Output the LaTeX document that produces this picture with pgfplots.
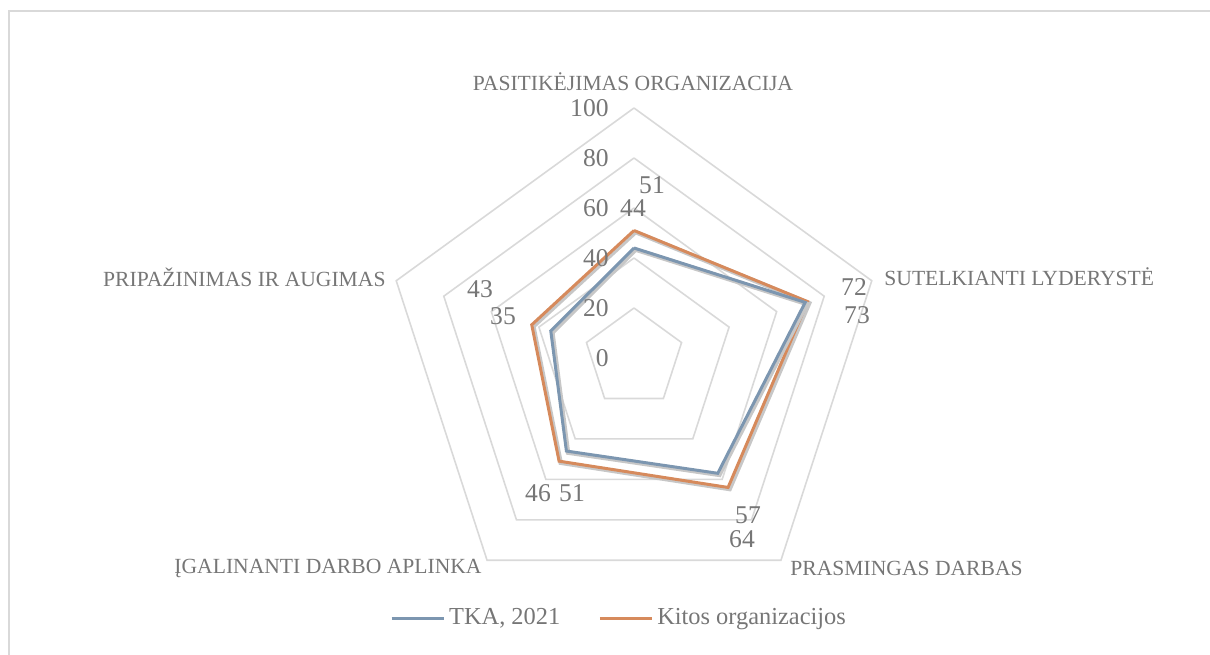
\documentclass[border=0pt]{standalone}
\usepackage{pgfplots}
\pgfplotsset{compat=1.18}
\usepgfplotslibrary{polar}
\usepackage{fontspec}
\setmainfont{Liberation Serif}

\definecolor{tka}{RGB}{124,150,176}
\definecolor{kitos}{RGB}{214,138,92}
\definecolor{gridc}{RGB}{217,217,217}
\definecolor{txt}{RGB}{118,118,118}

% positions are given in reference pixels, y measured from the top
\newcommand{\px}[2]{({#1*0.5pt},{(654-#2)*0.5pt})}

\begin{document}
\begin{tikzpicture}[
  lbl/.style={text=txt, inner sep=0pt, font=\fontsize{10.8}{13}\selectfont},
  num/.style={text=txt, inner sep=0pt, font=\fontsize{12.8}{15}\selectfont},
  shadowed/.style={preaction={draw=black!22, line width=2.2pt,
      transform canvas={xshift=0.8pt,yshift=-0.8pt}}}]
\useasboundingbox \px{0}{654} rectangle \px{1210}{0};
\draw[gridc, line width=1pt] \px{8.5}{660} -- \px{8.5}{11.5} -- \px{1215}{11.5};

\begin{polaraxis}[
  at={(317pt,148pt)}, anchor=center,
  scale only axis, width=250pt, height=250pt,
  ymin=0, ymax=100,
  hide axis, clip=false,
  legend style={at={(0.472,-0.02)}, anchor=center, draw=none, fill=none,
    legend columns=2, text=txt, font=\fontsize{12.2}{14}\selectfont,
    /tikz/every even column/.append style={column sep=17pt}},
  legend image code/.code={\draw[#1] (0pt,0pt) -- (26pt,0pt);},
]
% pentagon grid
\addplot[gridc, line width=0.8pt, forget plot] coordinates {(90,20) (18,20) (-54,20) (-126,20) (-198,20) (-270,20)};
\addplot[gridc, line width=0.8pt, forget plot] coordinates {(90,40) (18,40) (-54,40) (-126,40) (-198,40) (-270,40)};
\addplot[gridc, line width=0.8pt, forget plot] coordinates {(90,60) (18,60) (-54,60) (-126,60) (-198,60) (-270,60)};
\addplot[gridc, line width=0.8pt, forget plot] coordinates {(90,80) (18,80) (-54,80) (-126,80) (-198,80) (-270,80)};
\addplot[gridc, line width=0.8pt, forget plot] coordinates {(90,100) (18,100) (-54,100) (-126,100) (-198,100) (-270,100)};

% series: Pasitikejimas, Sutelkianti, Prasmingas, Igalinanti, Pripazinimas
\addplot[kitos, line width=1.5pt, shadowed, forget plot] coordinates {(90,51) (18,73) (-54,64) (-126,51) (-198,43) (-270,51)};
\addplot[tka, line width=1.5pt, shadowed, forget plot] coordinates {(90,44) (18,72) (-54,57) (-126,46) (-198,35) (-270,44)};

\addlegendimage{tka, line width=1.5pt}
\addlegendentry{TKA, 2021}
\addlegendimage{kitos, line width=1.5pt}
\addlegendentry{Kitos organizacijos}
\end{polaraxis}

% radial tick labels
\foreach \v/\y in {100/108, 80/158, 60/208, 40/258, 20/308, 0/358}
  \node[num, anchor=east] at \px{609}{\y} {\v};

% category labels
\node[lbl] at \px{633}{82} {PASITIKĖJIMAS ORGANIZACIJA};
\node[lbl, anchor=west] at \px{884}{277} {SUTELKIANTI LYDERYSTĖ};
\node[lbl, anchor=west] at \px{790}{568} {PRASMINGAS DARBAS};
\node[lbl, anchor=east] at \px{482}{568} {ĮGALINANTI DARBO APLINKA};
\node[lbl, anchor=east] at \px{386}{277} {PRIPAŽINIMAS IR AUGIMAS};

% data labels
\node[num] at \px{652}{185} {51};
\node[num] at \px{633}{208} {44};
\node[num] at \px{854}{287} {72};
\node[num] at \px{857}{315} {73};
\node[num] at \px{748}{515} {57};
\node[num] at \px{742}{539} {64};
\node[num] at \px{538}{493} {46};
\node[num] at \px{572}{493} {51};
\node[num] at \px{480}{289} {43};
\node[num] at \px{503}{316} {35};
\end{tikzpicture}
\end{document}
